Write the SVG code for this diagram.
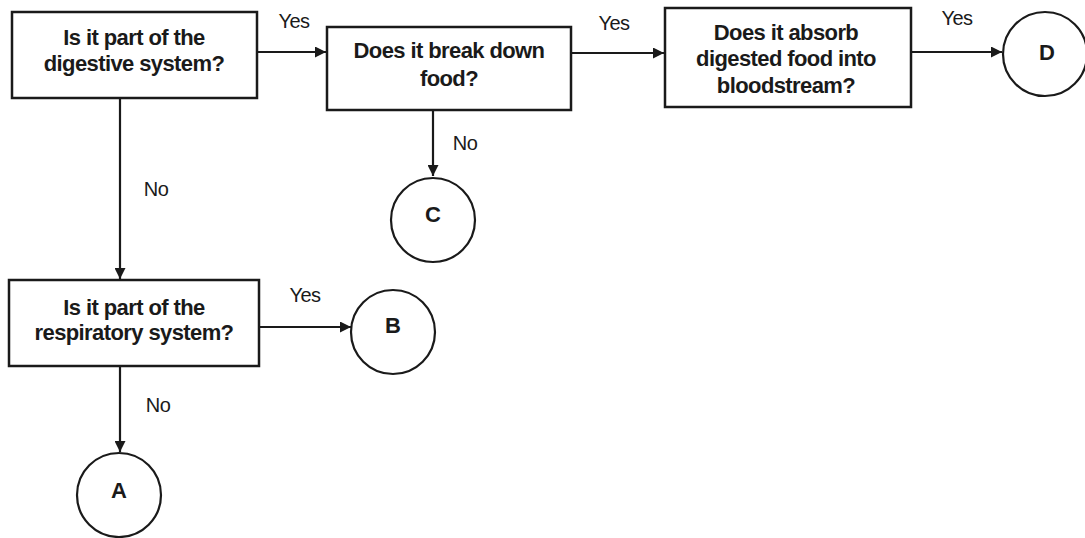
<svg xmlns="http://www.w3.org/2000/svg" width="1085" height="538" viewBox="0 0 1085 538">
<style>
.box{fill:#fff;stroke:#1a1a1a;stroke-width:2.5}
.circ{fill:#fff;stroke:#1a1a1a;stroke-width:2.2}
.q{font-family:"Liberation Sans",Arial,sans-serif;font-weight:bold;font-size:22px;fill:#1a1a1a;text-anchor:middle;letter-spacing:-0.6px}
.l{font-family:"Liberation Sans",Arial,sans-serif;font-size:20px;fill:#1a1a1a;text-anchor:middle;letter-spacing:-0.5px}
.c{font-family:"Liberation Sans",Arial,sans-serif;font-weight:bold;font-size:22px;fill:#1a1a1a;text-anchor:middle}
.e{stroke:#1a1a1a;stroke-width:2.2;fill:none;marker-end:url(#ah)}
</style>
<defs>
<marker id="ah" viewBox="0 0 10 10" refX="10" refY="5" markerWidth="5" markerHeight="5" orient="auto" markerUnits="strokeWidth">
<path d="M0,0 L10,5 L0,10 z" fill="#1a1a1a"/>
</marker>
</defs>
<rect width="1085" height="538" fill="#fff"/>
<g id="connectors">
<line class="e" x1="257" y1="52" x2="326" y2="52"/>
<line class="e" x1="571" y1="53" x2="664" y2="53"/>
<line class="e" x1="911" y1="52" x2="1002" y2="52"/>
<line class="e" x1="120" y1="98" x2="120" y2="279"/>
<line class="e" x1="433" y1="110" x2="433" y2="176"/>
<line class="e" x1="259" y1="327" x2="351" y2="327"/>
<line class="e" x1="120" y1="366" x2="120" y2="452"/>
<text class="l" x="294" y="28">Yes</text>
<text class="l" x="614" y="30">Yes</text>
<text class="l" x="957" y="25">Yes</text>
<text class="l" x="305" y="302">Yes</text>
<text class="l" x="156" y="196">No</text>
<text class="l" x="465" y="150">No</text>
<text class="l" x="158" y="412">No</text>
</g>
<g id="q1">
<rect class="box" x="12" y="12" width="245" height="86"/>
<text class="q" x="134" y="45">Is it part of the</text>
<text class="q" x="134" y="71">digestive system?</text>
</g>
<g id="q2">
<rect class="box" x="327" y="27" width="244" height="83"/>
<text class="q" x="449" y="58">Does it break down</text>
<text class="q" x="449" y="86">food?</text>
</g>
<g id="q3">
<rect class="box" x="665" y="8" width="246" height="99"/>
<text class="q" x="786" y="40">Does it absorb</text>
<text class="q" x="786" y="66">digested food into</text>
<text class="q" x="786" y="93">bloodstream?</text>
</g>
<g id="q4">
<rect class="box" x="9" y="280" width="250" height="86"/>
<text class="q" x="134" y="315">Is it part of the</text>
<text class="q" x="134" y="340">respiratory system?</text>
</g>
<g id="A">
<circle class="circ" cx="119" cy="495" r="42"/>
<text class="c" x="119" y="498">A</text>
</g>
<g id="B">
<circle class="circ" cx="393" cy="332" r="42"/>
<text class="c" x="393" y="333">B</text>
</g>
<g id="C">
<circle class="circ" cx="433" cy="220" r="42"/>
<text class="c" x="433" y="222">C</text>
</g>
<g id="D">
<circle class="circ" cx="1045" cy="54" r="42"/>
<text class="c" x="1047" y="60">D</text>
</g>
</svg>
